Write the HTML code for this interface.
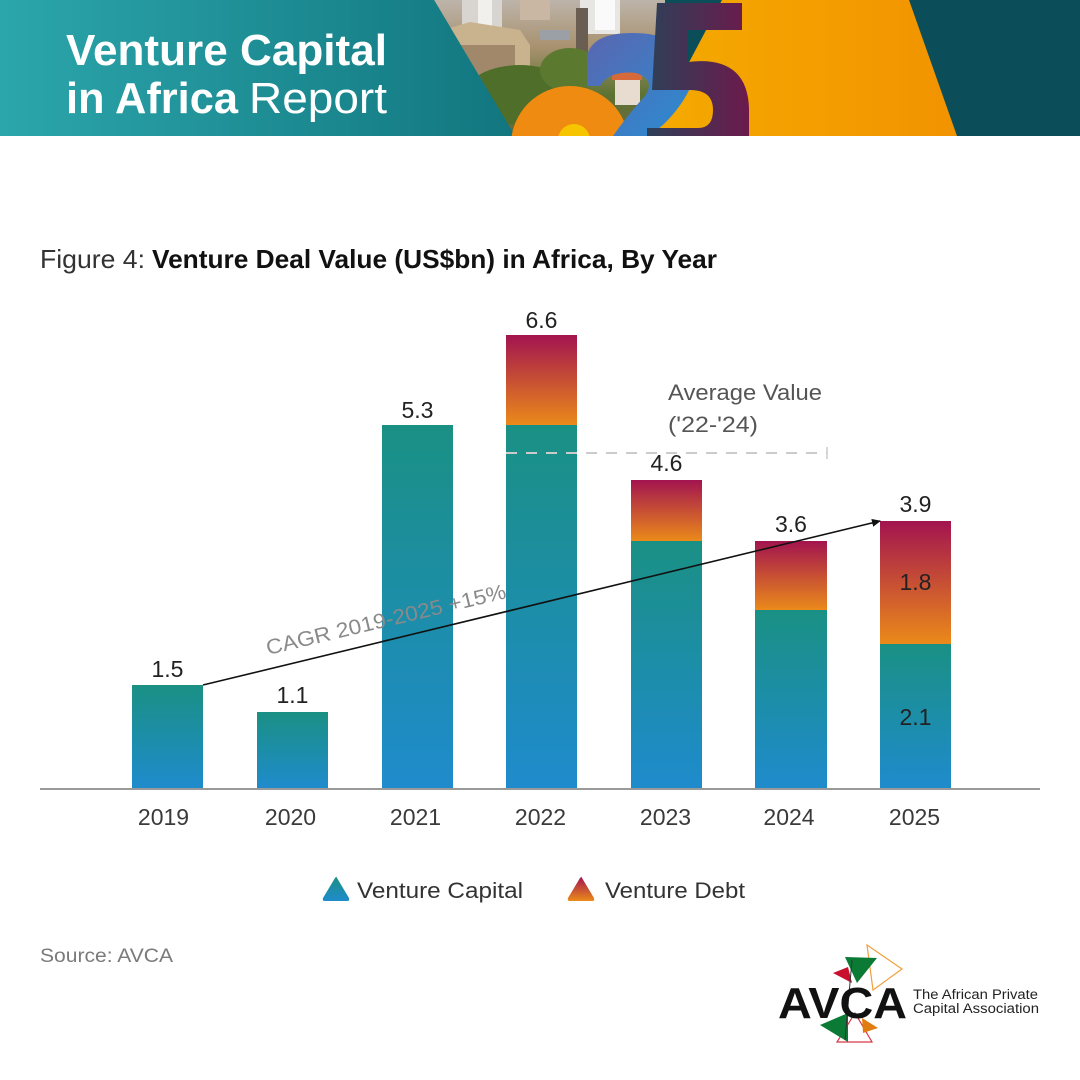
<!DOCTYPE html>
<html>
<head>
<meta charset="utf-8">
<style>
html,body{margin:0;padding:0;background:#fff;}
svg{display:block;}
text{font-family:"Liberation Sans",sans-serif;}
</style>
</head>
<body>
<svg width="1080" height="1080" viewBox="0 0 1080 1080" xmlns="http://www.w3.org/2000/svg">
<defs>
  <linearGradient id="teal" x1="0" y1="0" x2="1" y2="0">
    <stop offset="0" stop-color="#2ba6ab"/>
    <stop offset="1" stop-color="#12767f"/>
  </linearGradient>
  <linearGradient id="orng" x1="0" y1="0" x2="1" y2="0">
    <stop offset="0" stop-color="#f5aa00"/>
    <stop offset="1" stop-color="#f29300"/>
  </linearGradient>
  <linearGradient id="photo" x1="0" y1="0" x2="0" y2="1">
    <stop offset="0" stop-color="#bdb4aa"/>
    <stop offset="0.35" stop-color="#a8916e"/>
    <stop offset="0.7" stop-color="#5c7232"/>
    <stop offset="1" stop-color="#6b6a3e"/>
  </linearGradient>
  <linearGradient id="five" x1="0" y1="0" x2="1" y2="0">
    <stop offset="0" stop-color="#2d4058"/>
    <stop offset="1" stop-color="#6c1a4c"/>
  </linearGradient>
  <linearGradient id="blue2" x1="0" y1="0" x2="1" y2="1">
    <stop offset="0" stop-color="#5a66b0"/>
    <stop offset="1" stop-color="#2a8cd2"/>
  </linearGradient>
  <linearGradient id="vc" x1="0" y1="0" x2="0" y2="1">
    <stop offset="0" stop-color="#1a9084"/>
    <stop offset="1" stop-color="#1f8bcc"/>
  </linearGradient>
  <linearGradient id="vd" x1="0" y1="0" x2="0" y2="1">
    <stop offset="0" stop-color="#a2144f"/>
    <stop offset="1" stop-color="#eb8a1a"/>
  </linearGradient>
  <clipPath id="hdr"><rect x="0" y="0" width="1080" height="136"/></clipPath>
  <clipPath id="photoclip"><polygon points="434,0 665,0 665,136 515,136"/></clipPath>
  <marker id="arr" markerWidth="10" markerHeight="10" refX="8" refY="4" orient="auto" markerUnits="userSpaceOnUse">
    <path d="M0,0 L9,4 L0,8 Z" fill="#111"/>
  </marker>
</defs>

<!-- HEADER -->
<g clip-path="url(#hdr)">
  <rect x="0" y="0" width="1080" height="136" fill="#0b4e59"/>
  <!-- photo -->
  <g clip-path="url(#photoclip)">
    <rect x="430" y="0" width="240" height="136" fill="url(#photo)"/>
    <rect x="462" y="0" width="40" height="28" fill="#d8d4cf"/>
    <rect x="478" y="0" width="14" height="26" fill="#f2f0ec"/>
    <rect x="520" y="0" width="30" height="20" fill="#c9b7a4"/>
    <rect x="580" y="0" width="40" height="34" fill="#e8e6e2"/>
    <rect x="595" y="0" width="20" height="30" fill="#fafafa"/>
    <rect x="576" y="8" width="12" height="65" fill="#6a5e52"/>
    <polygon points="450,28 470,22 520,30 530,45 530,80 455,80" fill="#c9b38f"/>
    <rect x="460" y="45" width="55" height="30" fill="#a2886a"/>
    <rect x="540" y="30" width="30" height="10" fill="#9aa0a6"/>
    <ellipse cx="520" cy="95" rx="55" ry="30" fill="#4f6e2a"/>
    <ellipse cx="570" cy="70" rx="30" ry="22" fill="#5b7a30"/>
    <rect x="615" y="75" width="25" height="30" fill="#e8dcd0"/>
    <rect x="612" y="72" width="30" height="8" fill="#d66a3a"/>
  </g>
  <!-- orange polygon -->
  <polygon points="722,0 909,0 957,136 650,136" fill="url(#orng)"/>
  <!-- left teal -->
  <polygon points="0,0 434,0 515,136 0,136" fill="url(#teal)"/>
  <!-- orange circle -->
  <circle cx="570" cy="145" r="59" fill="#ef8b10"/>
  <circle cx="574" cy="140" r="16" fill="#f7c400"/>
  <!-- blue 2 -->
  <path d="M587,86 L587,56 Q592,33 632,33 Q678,33 688,62 L690,88 Q682,106 664,124 L650,136 L613,136 Q630,112 645,96 Q656,80 636,73 Q610,70 600,86 Z" fill="url(#blue2)"/>
  <!-- 5 -->
  <path d="M657,3 L742,3 L742,30 L688,30 L688,62 Q747,55 749,108 L749,136 L647,136 L647,128 L698,128 Q713,128 713,110 Q713,90 690,90 L652,90 Z" fill="url(#five)"/>
  <text x="66" y="65" font-size="44" font-weight="bold" fill="#fff" textLength="321" lengthAdjust="spacingAndGlyphs">Venture Capital</text>
  <text x="66" y="113" font-size="44" font-weight="bold" fill="#fff" textLength="172" lengthAdjust="spacingAndGlyphs">in Africa</text>
  <text x="249" y="113" font-size="44" fill="#fff" textLength="138" lengthAdjust="spacingAndGlyphs">Report</text>
</g>

<!-- TITLE -->
<text x="40" y="268" font-size="26" fill="#333" textLength="105" lengthAdjust="spacingAndGlyphs">Figure 4:</text>
<text x="152" y="268" font-size="26" font-weight="bold" fill="#111" textLength="565" lengthAdjust="spacingAndGlyphs">Venture Deal Value (US$bn) in Africa, By Year</text>

<!-- BARS -->
<rect x="132" y="685" width="71" height="103" fill="url(#vc)"/>
<rect x="257" y="712" width="71" height="76" fill="url(#vc)"/>
<rect x="382" y="425" width="71" height="363" fill="url(#vc)"/>
<rect x="506" y="425" width="71" height="363" fill="url(#vc)"/>
<rect x="506" y="335" width="71" height="90" fill="url(#vd)"/>
<rect x="631" y="541" width="71" height="247" fill="url(#vc)"/>
<rect x="631" y="480" width="71" height="61" fill="url(#vd)"/>
<rect x="755" y="610" width="72" height="178" fill="url(#vc)"/>
<rect x="755" y="541" width="72" height="69" fill="url(#vd)"/>
<rect x="880" y="644" width="71" height="144" fill="url(#vc)"/>
<rect x="880" y="521" width="71" height="123" fill="url(#vd)"/>

<!-- axis -->
<line x1="40" y1="789" x2="1040" y2="789" stroke="#9a9a9a" stroke-width="2"/>

<!-- dashed average -->
<line x1="506" y1="453" x2="827" y2="453" stroke="#cbcbcb" stroke-width="2" stroke-dasharray="11,9"/>
<line x1="827" y1="447" x2="827" y2="459" stroke="#cbcbcb" stroke-width="1.5"/>
<text x="668" y="400" font-size="22" fill="#555" textLength="154" lengthAdjust="spacingAndGlyphs">Average Value</text>
<text x="668" y="432" font-size="22" fill="#555" textLength="90" lengthAdjust="spacingAndGlyphs">('22-'24)</text>

<!-- CAGR arrow -->
<line x1="203" y1="685" x2="880" y2="521" stroke="#111" stroke-width="1.6" marker-end="url(#arr)"/>
<text x="0" y="0" font-size="21" fill="#8a8a8a" transform="translate(268,655) rotate(-13.4)" textLength="246" lengthAdjust="spacingAndGlyphs">CAGR 2019-2025 +15%</text>

<!-- value labels -->
<g font-size="23" fill="#222" text-anchor="middle">
  <text x="167.5" y="677">1.5</text>
  <text x="292.5" y="703">1.1</text>
  <text x="417.5" y="418">5.3</text>
  <text x="541.5" y="328">6.6</text>
  <text x="666.5" y="471">4.6</text>
  <text x="791" y="532">3.6</text>
  <text x="915.5" y="512">3.9</text>
  <text x="915.5" y="590">1.8</text>
  <text x="915.5" y="725">2.1</text>
</g>

<!-- year labels -->
<g font-size="23" fill="#3a3a3a" text-anchor="middle">
  <text x="163.5" y="825">2019</text>
  <text x="290.5" y="825">2020</text>
  <text x="415.5" y="825">2021</text>
  <text x="540.5" y="825">2022</text>
  <text x="665.5" y="825">2023</text>
  <text x="789" y="825">2024</text>
  <text x="914.5" y="825">2025</text>
</g>

<!-- legend -->
<path d="M336,877 Q336,876 337,878 L349,898 Q350,901 347,901 L325,901 Q322,901 323,898 L335,878 Z" fill="url(#vc)"/>
<text x="357" y="898" font-size="22" fill="#333" textLength="166" lengthAdjust="spacingAndGlyphs">Venture Capital</text>
<path d="M581,877 Q581,876 582,878 L594,898 Q595,901 592,901 L570,901 Q567,901 568,898 L580,878 Z" fill="url(#vd)"/>
<text x="605" y="898" font-size="22" fill="#333" textLength="140" lengthAdjust="spacingAndGlyphs">Venture Debt</text>

<!-- source -->
<text x="40" y="962" font-size="19" fill="#7a7a7a" textLength="133" lengthAdjust="spacingAndGlyphs">Source: AVCA</text>

<!-- AVCA logo -->
<polygon points="867,945 902,969 873,990" fill="none" stroke="#f0a040" stroke-width="1.2"/>
<polygon points="845,957 877,958 857,983" fill="#0b7a35"/>
<polygon points="833,973 848,967 852,983" fill="#c8102e"/>
<polygon points="837,1042 872,1042 855,1013" fill="none" stroke="#d63848" stroke-width="1.2"/>
<polygon points="820,1025 848,1013 848,1042" fill="#0b7a35"/>
<polygon points="862,1018 878,1028 863,1033" fill="#e07d10"/>
<line x1="852" y1="960" x2="845" y2="1040" stroke="#333" stroke-width="1"/>
<text x="778" y="1018" font-size="44" font-weight="bold" fill="#111" textLength="129" lengthAdjust="spacingAndGlyphs">AVCA</text>
<text x="913" y="999" font-size="13.5" fill="#222" textLength="125" lengthAdjust="spacingAndGlyphs">The African Private</text>
<text x="913" y="1013" font-size="13.5" fill="#222" textLength="126" lengthAdjust="spacingAndGlyphs">Capital Association</text>
</svg>
</body>
</html>
